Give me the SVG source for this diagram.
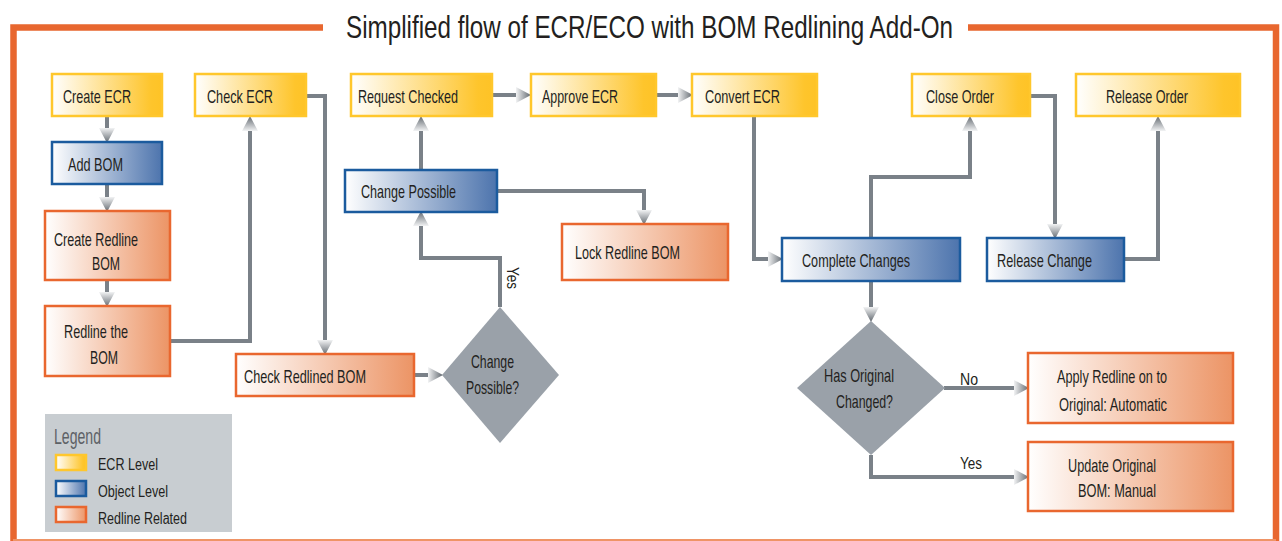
<svg xmlns="http://www.w3.org/2000/svg" width="1282" height="541" viewBox="0 0 1282 541">
<style>
text{font-family:"Liberation Sans",Arial,sans-serif;fill:#231f20;}
.t{font-size:19px;}
.s{font-size:16px;}
.ecr{fill:url(#gy);stroke:#ffc72c;stroke-width:2.5;}
.obj{fill:url(#gb);stroke:#1b5b9e;stroke-width:2.5;}
.red{fill:url(#go);stroke:#e9672f;stroke-width:2.5;}
.dia{fill:#9aa1a9;}
.c{fill:none;stroke:#7a8188;stroke-width:4;marker-end:url(#ah);}
.frame{fill:none;stroke:#e8672f;stroke-width:6.5;}
</style>
<defs>
<linearGradient id="gy" x1="0" y1="0" x2="1" y2="0"><stop offset="0" stop-color="#ffffff"/><stop offset="0.9" stop-color="#fec52c"/><stop offset="1" stop-color="#fec326"/></linearGradient>
<linearGradient id="gb" x1="0" y1="0" x2="1" y2="0"><stop offset="0" stop-color="#ffffff"/><stop offset="1" stop-color="#4d74ad"/></linearGradient>
<linearGradient id="go" x1="0" y1="0" x2="1" y2="0"><stop offset="0" stop-color="#ffffff"/><stop offset="1" stop-color="#ec9465"/></linearGradient>
<linearGradient id="ga" x1="0" y1="0" x2="1" y2="0"><stop offset="0" stop-color="#f2f3f4"/><stop offset="1" stop-color="#5f666d"/></linearGradient>
<marker id="ah" markerUnits="userSpaceOnUse" markerWidth="15" markerHeight="18" refX="0" refY="8" orient="auto" viewBox="0 0 15 16">
<path d="M0,0 L15,8 L0,16 Z" fill="url(#ga)"/>
</marker>
</defs>
<rect width="1282" height="541" fill="#ffffff"/>
<path class="frame" d="M323,27.5 H13.5 V545"/>
<path class="frame" d="M968,27.5 H1276 V545"/>
<line x1="13" y1="540" x2="1276" y2="540" stroke="#ef9466" stroke-width="2"/>
<text x="346" y="38" font-size="32" textLength="607" lengthAdjust="spacingAndGlyphs">Simplified flow of ECR/ECO with BOM Redlining Add-On</text>

<g id="connectors">
<path class="c" d="M107,117 V128"/>
<path class="c" d="M107,184 V197"/>
<path class="c" d="M107,280 V292"/>
<path class="c" d="M170,341 H250 V131"/>
<path class="c" d="M306,96 H325 V340"/>
<path class="c" d="M415,375 H428"/>
<path class="c" d="M500,307 V258 H421 V226"/>
<path class="c" d="M421,170 V131"/>
<path class="c" d="M497,191 H644 V210"/>
<path class="c" d="M492,95 H516"/>
<path class="c" d="M656,95 H678"/>
<path class="c" d="M754,117 V259 H768"/>
<path class="c" d="M871,238 V177 H970 V131"/>
<path class="c" d="M1030,96 H1055 V224"/>
<path class="c" d="M1124,259 H1158 V131"/>
<path class="c" d="M871,281 V307" stroke-width="6"/>
<path class="c" d="M944,388 H1014"/>
<path class="c" d="M871,455 V477 H1014"/>
<text class="s" x="0" y="0" transform="translate(507,267) rotate(90)" textLength="22" lengthAdjust="spacingAndGlyphs">Yes</text>
<text class="s" x="960" y="385" textLength="18" lengthAdjust="spacingAndGlyphs">No</text>
<text class="s" x="960" y="469" textLength="22" lengthAdjust="spacingAndGlyphs">Yes</text>
</g>

<g id="create-ecr"><rect class="ecr" x="52" y="74" width="110" height="42"/><text class="t" x="63" y="103" textLength="68" lengthAdjust="spacingAndGlyphs">Create ECR</text></g>
<g id="check-ecr"><rect class="ecr" x="195" y="74" width="111" height="42"/><text class="t" x="207" y="103" textLength="66" lengthAdjust="spacingAndGlyphs">Check ECR</text></g>
<g id="add-bom"><rect class="obj" x="52" y="142" width="110" height="42"/><text class="t" x="68" y="171" textLength="55" lengthAdjust="spacingAndGlyphs">Add BOM</text></g>
<g id="create-redline-bom"><rect class="red" x="45" y="211" width="125" height="69"/><text class="t" x="54" y="246" textLength="84" lengthAdjust="spacingAndGlyphs">Create Redline</text><text class="t" x="92" y="270" textLength="28" lengthAdjust="spacingAndGlyphs">BOM</text></g>
<g id="redline-the-bom"><rect class="red" x="45" y="306" width="125" height="70"/><text class="t" x="64" y="338" textLength="64" lengthAdjust="spacingAndGlyphs">Redline the</text><text class="t" x="90" y="364" textLength="28" lengthAdjust="spacingAndGlyphs">BOM</text></g>
<g id="check-redlined-bom"><rect class="red" x="236" y="354" width="178" height="42"/><text class="t" x="244" y="383" textLength="122" lengthAdjust="spacingAndGlyphs">Check Redlined BOM</text></g>
<g id="change-possible-q"><path class="dia" d="M500,307 L559,375 L500,443 L442,375 Z"/><text class="t" x="471" y="368" textLength="43" lengthAdjust="spacingAndGlyphs">Change</text><text class="t" x="466" y="394" textLength="53" lengthAdjust="spacingAndGlyphs">Possible?</text></g>
<g id="request-checked"><rect class="ecr" x="351" y="74" width="141" height="42"/><text class="t" x="358" y="103" textLength="100" lengthAdjust="spacingAndGlyphs">Request Checked</text></g>
<g id="approve-ecr"><rect class="ecr" x="531" y="74" width="125" height="42"/><text class="t" x="542" y="103" textLength="76" lengthAdjust="spacingAndGlyphs">Approve ECR</text></g>
<g id="convert-ecr"><rect class="ecr" x="692" y="74" width="125" height="42"/><text class="t" x="705" y="103" textLength="75" lengthAdjust="spacingAndGlyphs">Convert ECR</text></g>
<g id="change-possible"><rect class="obj" x="345" y="170" width="152" height="42"/><text class="t" x="361" y="198" textLength="95" lengthAdjust="spacingAndGlyphs">Change Possible</text></g>
<g id="lock-redline-bom"><rect class="red" x="562" y="224" width="166" height="56"/><text class="t" x="575" y="259" textLength="105" lengthAdjust="spacingAndGlyphs">Lock Redline BOM</text></g>
<g id="close-order"><rect class="ecr" x="912" y="74" width="118" height="42"/><text class="t" x="926" y="103" textLength="68" lengthAdjust="spacingAndGlyphs">Close Order</text></g>
<g id="release-order"><rect class="ecr" x="1076" y="74" width="164" height="42"/><text class="t" x="1106" y="103" textLength="82" lengthAdjust="spacingAndGlyphs">Release Order</text></g>
<g id="complete-changes"><rect class="obj" x="782" y="238" width="178" height="43"/><text class="t" x="802" y="267" textLength="108" lengthAdjust="spacingAndGlyphs">Complete Changes</text></g>
<g id="release-change"><rect class="obj" x="987" y="238" width="137" height="43"/><text class="t" x="997" y="267" textLength="95" lengthAdjust="spacingAndGlyphs">Release Change</text></g>
<g id="has-original-changed"><path class="dia" d="M871,321 L945,388 L871,455 L797,388 Z"/><text class="t" x="824" y="382" textLength="70" lengthAdjust="spacingAndGlyphs">Has Original</text><text class="t" x="836" y="408" textLength="57" lengthAdjust="spacingAndGlyphs">Changed?</text></g>
<g id="apply-redline"><rect class="red" x="1028" y="353" width="205" height="70"/><text class="t" x="1057" y="383" textLength="110" lengthAdjust="spacingAndGlyphs">Apply Redline on to</text><text class="t" x="1059" y="411" textLength="108" lengthAdjust="spacingAndGlyphs">Original: Automatic</text></g>
<g id="update-original"><rect class="red" x="1028" y="442" width="205" height="69"/><text class="t" x="1068" y="472" textLength="88" lengthAdjust="spacingAndGlyphs">Update Original</text><text class="t" x="1078" y="497" textLength="78" lengthAdjust="spacingAndGlyphs">BOM: Manual</text></g>

<g id="legend">
<rect x="45" y="414" width="187" height="118" fill="#c8cdd1"/>
<text x="54" y="444" font-size="22" style="fill:#5d6166" textLength="47" lengthAdjust="spacingAndGlyphs">Legend</text>
<rect class="ecr" x="56" y="455" width="30" height="15" stroke-width="2"/>
<text class="s" x="98" y="470" textLength="60" lengthAdjust="spacingAndGlyphs">ECR Level</text>
<rect class="obj" x="56" y="481" width="30" height="15" stroke-width="2"/>
<text class="s" x="98" y="497" textLength="70" lengthAdjust="spacingAndGlyphs">Object Level</text>
<rect class="red" x="56" y="507" width="30" height="15" stroke-width="2"/>
<text class="s" x="98" y="524" textLength="89" lengthAdjust="spacingAndGlyphs">Redline Related</text>
</g>
</svg>
